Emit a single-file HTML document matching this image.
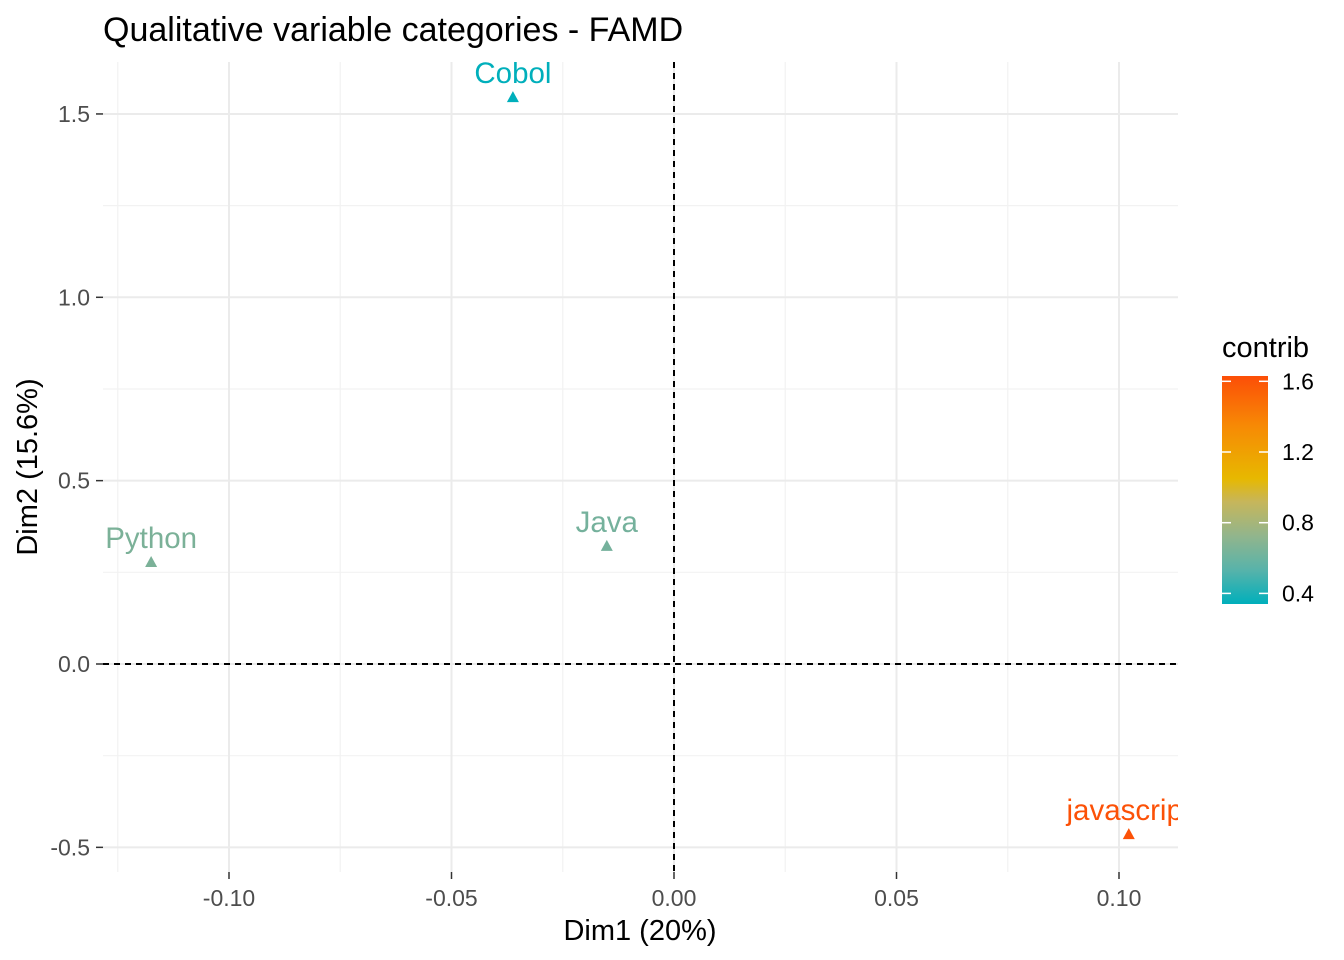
<!DOCTYPE html>
<html><head><meta charset="utf-8"><style>
html,body{margin:0;padding:0;background:#fff;}
svg{display:block;font-family:"Liberation Sans",Arial,sans-serif;}
</style></head><body>
<svg id="chart" width="1344" height="960" viewBox="0 0 1344 960">
<defs>
<clipPath id="panelClip"><rect x="103" y="62" width="1075" height="810"/></clipPath>
<linearGradient id="contribGrad" x1="0" y1="1" x2="0" y2="0">
<stop offset="0" stop-color="#00AFBB"/>
<stop offset="0.15" stop-color="#58B3AA"/>
<stop offset="0.3" stop-color="#92B58C"/>
<stop offset="0.45" stop-color="#C7B65A"/>
<stop offset="0.55" stop-color="#E7B800"/>
<stop offset="0.78" stop-color="#F78A05"/>
<stop offset="1" stop-color="#FC4E07"/>
</linearGradient>
</defs>
<text x="103" y="41" font-size="34" fill="#000">Qualitative variable categories - FAMD</text>
<g id="grid"></g>
<g id="axes"></g>
<g id="points" clip-path="url(#panelClip)"></g>
<text x="640" y="940" font-size="29" text-anchor="middle">Dim1 (20%)</text>
<text transform="translate(37,467) rotate(-90)" font-size="29" text-anchor="middle">Dim2 (15.6%)</text>
<g>
<text x="1222" y="357" font-size="29">contrib</text>
<rect x="1222" y="376" width="46" height="228" fill="url(#contribGrad)"/>
<g id="legendTicks"></g>
</g>
</svg>
<script>
const categories = ["Cobol", "Java", "Python", "javascript"];
const dim1 = [-0.0362, -0.0151, -0.1175, 0.1022];
const dim2 = [1.546, 0.322, 0.278, -0.464];
const contrib = [0.34, 0.50, 0.52, 1.62];
const xTicks = [-0.10, -0.05, 0.00, 0.05, 0.10];
const xTickLabels = ["-0.10", "-0.05", "0.00", "0.05", "0.10"];
const yTicks = [-0.5, 0.0, 0.5, 1.0, 1.5];
const yTickLabels = ["-0.5", "0.0", "0.5", "1.0", "1.5"];
const legendTicks = [0.4, 0.8, 1.2, 1.6];
const legendTickLabels = ["0.4", "0.8", "1.2", "1.6"];

const NS = "http://www.w3.org/2000/svg";
const X0 = 103, X1 = 1178, Y0 = 62, Y1 = 872;
const xs = v => 674 + v * 4450;
const ys = v => 664 - v * 366.7;
const cMin = 0.34, cMax = 1.63;
const legY = v => 604 - (v - cMin) / (cMax - cMin) * 228;
function mk(tag, attrs, parent) {
  const e = document.createElementNS(NS, tag);
  for (const k in attrs) e.setAttribute(k, attrs[k]);
  parent.appendChild(e);
  return e;
}
function toLin(c){c/=255;return c<=0.04045?c/12.92:Math.pow((c+0.055)/1.055,2.4);}
function fromLin(c){c=c<=0.0031308?12.92*c:1.055*Math.pow(c,1/2.4)-0.055;return Math.max(0,Math.min(255,Math.round(c*255)));}
function rgb2lab(rgb){
  const [r,g,b]=rgb.map(toLin);
  let x=(0.4124*r+0.3576*g+0.1805*b)/0.95047, y=0.2126*r+0.7152*g+0.0722*b, z=(0.0193*r+0.1192*g+0.9505*b)/1.08883;
  const f=t=>t>0.008856?Math.cbrt(t):7.787*t+16/116;
  const fx=f(x),fy=f(y),fz=f(z);
  return [116*fy-16,500*(fx-fy),200*(fy-fz)];
}
function lab2rgb(lab){
  const fy=(lab[0]+16)/116, fx=fy+lab[1]/500, fz=fy-lab[2]/200;
  const fi=t=>t*t*t>0.008856?t*t*t:(t-16/116)/7.787;
  const x=fi(fx)*0.95047,y=fi(fy),z=fi(fz)*1.08883;
  const r=3.2406*x-1.5372*y-0.4986*z,g=-0.9689*x+1.8758*y+0.0415*z,b=0.0557*x-0.2040*y+1.0570*z;
  return [fromLin(r),fromLin(g),fromLin(b)];
}
function lerpLab(a,b,t){const A=rgb2lab(a),B=rgb2lab(b);return lab2rgb(A.map((v,i)=>v+(B[i]-v)*t));}
function colorFor(c) {
  let t = (c - cMin) / (cMax - cMin); t = Math.max(0, Math.min(1, t));
  const lo = [0, 175, 187], mid = [231, 184, 0], hi = [252, 78, 7];
  const rgb = t < 0.55 ? lerpLab(lo, mid, t / 0.55) : lerpLab(mid, hi, (t - 0.55) / 0.45);
  return "rgb(" + rgb.join(",") + ")";
}
const grid = document.getElementById("grid");
const axes = document.getElementById("axes");
const pts = document.getElementById("points");
for (let i = 0; i < xTicks.length; i++) {
  const m = xTicks[i] - 0.025;
  const l = mk("line", {x1: xs(m), x2: xs(m), y1: Y0, y2: Y1, stroke: "#F2F2F2", "stroke-width": 1.2}, grid);
  
  
}
for (let i = 0; i < yTicks.length; i++) {
  const m = yTicks[i] + 0.25;
  if (ys(m) < Y0) continue;
  const l = mk("line", {x1: X0, x2: X1, y1: ys(m), y2: ys(m), stroke: "#F2F2F2", "stroke-width": 1.2}, grid);
  
  
}
xTicks.forEach((v, i) => {
  const l = mk("line", {x1: xs(v), x2: xs(v), y1: Y0, y2: Y1, stroke: "#EBEBEB", "stroke-width": 2}, grid);
  
  
  const t = mk("line", {x1: xs(v), x2: xs(v), y1: Y1, y2: Y1 + 7, stroke: "#333", "stroke-width": 1.5}, axes);
  
  
  const tx = mk("text", {x: xs(v), y: 906, "font-size": 23, "text-anchor": "middle", fill: "#4D4D4D"}, axes);
  tx.textContent = xTickLabels[i];
  
  
});
yTicks.forEach((v, i) => {
  const l = mk("line", {x1: X0, x2: X1, y1: ys(v), y2: ys(v), stroke: "#EBEBEB", "stroke-width": 2}, grid);
  
  
  const t = mk("line", {x1: 96, x2: 103, y1: ys(v), y2: ys(v), stroke: "#333", "stroke-width": 1.5}, axes);
  
  
  const tx = mk("text", {x: 90, y: ys(v) + 8, "font-size": 23, "text-anchor": "end", fill: "#4D4D4D"}, axes);
  tx.textContent = yTickLabels[i];
  
  
});
const h0 = mk("line", {x1: X0, x2: X1, y1: ys(0), y2: ys(0), stroke: "#000", "stroke-width": 2, "stroke-dasharray": "6,5"}, axes);


const v0 = mk("line", {x1: xs(0), x2: xs(0), y1: Y0, y2: Y1, stroke: "#000", "stroke-width": 2, "stroke-dasharray": "6,5"}, axes);


categories.forEach((c, i) => {
  const x = xs(dim1[i]), y = ys(dim2[i]), col = colorFor(contrib[i]);
  const p = mk("polygon", {points: (x - 6) + "," + (y + 5) + " " + (x + 6) + "," + (y + 5) + " " + x + "," + (y - 6), fill: col}, pts);
  
  
  const t = mk("text", {x: x, y: y - 14, "font-size": 29.5, "text-anchor": "middle", fill: col}, pts);
  t.textContent = c;
  
  
});
const lg = document.getElementById("legendTicks");
legendTicks.forEach((v, i) => {
  const y = legY(v);
  const a = mk("line", {x1: 1222, x2: 1231, y1: y, y2: y, stroke: "#fff", "stroke-width": 1.5}, lg);
  
  
  const b = mk("line", {x1: 1259, x2: 1268, y1: y, y2: y, stroke: "#fff", "stroke-width": 1.5}, lg);
  
  
  const t = mk("text", {x: 1282, y: y + 8, "font-size": 23, fill: "#000"}, lg);
  t.textContent = legendTickLabels[i];
  
  
});
</script>
</body></html>
